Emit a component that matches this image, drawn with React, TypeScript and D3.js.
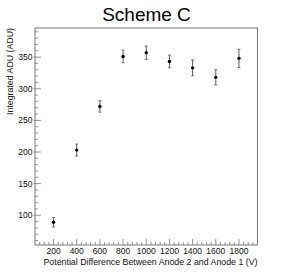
import React from 'react';
import * as d3 from 'd3';

// potential difference (V)
const voltages = [200, 400, 600, 800, 1000, 1200, 1400, 1600, 1800];
// integrated ADU and its error
const adu = [89, 203, 272, 351, 357, 343, 333, 318, 348];
const aduErr = [7.5, 9.5, 9, 10, 10.5, 10, 12.5, 12, 14.5];

const xTickLabels = [200, 400, 600, 800, 1000, 1200, 1400, 1600, 1800];
const yTickLabels = [100, 150, 200, 250, 300, 350];

const App = () => {
  const width = 293;
  const height = 279;
  const margin = { top: 28, right: 35.5, bottom: 34, left: 35 };
  const font = '"Liberation Sans", Arial, Helvetica, sans-serif';

  const x = d3.scaleLinear()
    .domain([40, 1960])
    .range([margin.left, width - margin.right]);

  const y = d3.scaleLinear()
    .domain([53, 396])
    .range([height - margin.bottom, margin.top]);

  const x0 = margin.left;
  const x1 = width - margin.right;
  const y0 = height - margin.bottom;
  const y1 = margin.top;

  // minor ticks
  const xMinor = d3.range(80, 1960, 40).filter(v => v % 200 !== 0);
  const yMinor = d3.range(60, 396, 10).filter(v => v % 50 !== 0);

  const axisColor = '#7a7a7a';

  return (
    <svg width={width} height={height}
      style={{ position: 'absolute', left: 0, top: 0, background: '#fff' }}>
      <rect x={0} y={0} width={width} height={height} fill="#fff" />

      {/* title */}
      <text x={146.5} y={20.5} textAnchor="middle" fontFamily={font} fontSize={19}
        fill="#000">Scheme C</text>

      {/* frame */}
      <rect x={x0} y={y1} width={x1 - x0} height={y0 - y1}
        fill="none" stroke={axisColor} strokeWidth={1} />

      {/* x ticks */}
      {xMinor.map(v => (
        <line key={'xm' + v} x1={x(v)} x2={x(v)} y1={y0} y2={y0 - 3}
          stroke={axisColor} strokeWidth={0.8} />
      ))}
      {xTickLabels.map(v => (
        <g key={'x' + v}>
          <line x1={x(v)} x2={x(v)} y1={y0} y2={y0 - 6} stroke={axisColor} strokeWidth={0.8} />
          <text x={x(v)} y={y0 + 8.5} textAnchor="middle" fontFamily={font}
            fontSize={8.5} fill="#111">{v}</text>
        </g>
      ))}

      {/* y ticks */}
      {yMinor.map(v => (
        <line key={'ym' + v} x1={x0} x2={x0 + 3} y1={y(v)} y2={y(v)}
          stroke={axisColor} strokeWidth={0.8} />
      ))}
      {yTickLabels.map(v => (
        <g key={'y' + v}>
          <line x1={x0 - 1.5} x2={x0 + 6} y1={y(v)} y2={y(v)} stroke={axisColor} strokeWidth={0.8} />
          <text x={x0 - 2.5} y={y(v) + 3} textAnchor="end" fontFamily={font}
            fontSize={8.5} fill="#111">{v}</text>
        </g>
      ))}

      {/* axis titles */}
      <text x={x1} y={y0 + 20} textAnchor="end" fontFamily={font} fontSize={8.8}
        fill="#111">Potential Difference Between Anode 2 and Anode 1 (V)</text>
      <text transform={`translate(13, ${y1}) rotate(-90)`} textAnchor="end"
        fontFamily={font} fontSize={8.8} fill="#111">Integrated ADU (ADU)</text>

      {/* error bars and markers */}
      {voltages.map((v, i) => (
        <g key={'p' + v}>
          <line x1={x(v)} x2={x(v)} y1={y(adu[i] - aduErr[i])} y2={y(adu[i] + aduErr[i])}
            stroke="#333" strokeWidth={0.8} />
          <line x1={x(v) - 1.5} x2={x(v) + 1.5} y1={y(adu[i] - aduErr[i])} y2={y(adu[i] - aduErr[i])}
            stroke="#555" strokeWidth={0.8} />
          <line x1={x(v) - 1.5} x2={x(v) + 1.5} y1={y(adu[i] + aduErr[i])} y2={y(adu[i] + aduErr[i])}
            stroke="#555" strokeWidth={0.8} />
          <circle cx={x(v)} cy={y(adu[i])} r={1.7} fill="#000" />
        </g>
      ))}
    </svg>
  );
};

export default App;
